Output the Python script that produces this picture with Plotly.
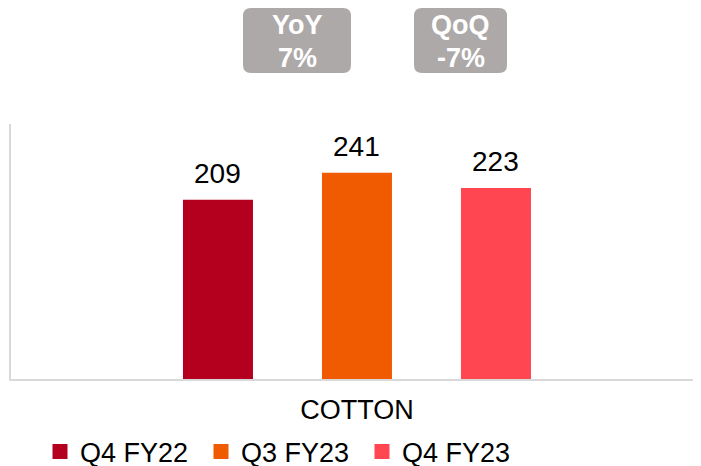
import plotly.graph_objects as go

categories = ["COTTON"]
series_names = ["Q4 FY22", "Q3 FY23", "Q4 FY23"]
series_values = [209, 241, 223]
series_colors = ["#B4001E", "#F05A00", "#FF4651"]
badge_titles = ["YoY", "QoQ"]
badge_values = ["7%", "-7%"]

# page body has an 8px default margin; size the figure to fit the 701x466 window
OFF = 8
W, H = 701 - OFF, 466 - OFF
ML, MR, MT, MB = 11 - OFF, 0, 124 - OFF, 87
PW, PH = W - ML - MR, H - MT - MB

FONT = "Arial, Liberation Sans, sans-serif"

fig = go.Figure()
positions = list(range(len(series_names)))
for pos, name, val, col in zip(positions, series_names, series_values, series_colors):
    fig.add_trace(go.Bar(
        x=[pos], y=[val], name=name, width=0.482,
        marker=dict(color=col, line=dict(color=col, width=3)),
        hoverinfo="name+y",
    ))
    fig.add_annotation(x=pos, y=val, xref="x", yref="y", text=str(val),
                       showarrow=False, yanchor="bottom", yshift=10,
                       font=dict(family=FONT, size=28, color="#000000"))

def px2paper(px, py):
    # px, py in window pixels
    return (px - OFF - ML) / PW, (H - MB - (py - OFF)) / PH

def rounded_rect(x0, y0, x1, y1, r=8):
    rx, ry = r / PW, r / PH
    X0, Y0 = px2paper(x0, y1)
    X1, Y1 = px2paper(x1, y0)
    return (f"M {X0+rx},{Y0} L {X1-rx},{Y0} Q {X1},{Y0} {X1},{Y0+ry} "
            f"L {X1},{Y1-ry} Q {X1},{Y1} {X1-rx},{Y1} L {X0+rx},{Y1} "
            f"Q {X0},{Y1} {X0},{Y1-ry} L {X0},{Y0+ry} Q {X0},{Y0} {X0+rx},{Y0} Z")

badge_boxes = [(243, 8, 351, 73), (414, 8, 507, 73)]
for (x0, y0, x1, y1), t, v in zip(badge_boxes, badge_titles, badge_values):
    fig.add_shape(type="path", xref="paper", yref="paper",
                  path=rounded_rect(x0, y0, x1, y1),
                  fillcolor="#ADA9A8", line=dict(width=0), layer="above")
    for txt, ty in ((t, 25), (v, 57.5)):
        cx, cy = px2paper((x0 + x1) / 2, ty)
        fig.add_annotation(x=cx, y=cy, xref="paper", yref="paper",
                           text=f"<b>{txt}</b>", showarrow=False,
                           xanchor="center", yanchor="middle",
                           font=dict(family=FONT, size=27, color="#FFFFFF"))

mid = (len(series_names) - 1) / 2
fig.update_layout(
    width=W, height=H,
    margin=dict(l=ML, r=MR, t=MT, b=MB, pad=0),
    paper_bgcolor="#FFFFFF", plot_bgcolor="#FFFFFF",
    barmode="overlay",
    showlegend=True,
    legend=dict(orientation="h", x=(32 - ML) / PW, xanchor="left",
                yref="container", y=1 - (452 - OFF) / H, yanchor="middle",
                entrywidth=116, entrywidthmode="pixels",
                font=dict(family=FONT, size=27, color="#000000"),
                bgcolor="rgba(0,0,0,0)"),
    xaxis=dict(range=[-1.489, 3.475], tickvals=[mid], ticktext=categories,
               showline=True, linecolor="#D9D9D9", linewidth=2,
               showgrid=False, zeroline=False, ticks="",
               ticklabelstandoff=6,
               tickfont=dict(family=FONT, size=27, color="#000000"),
               fixedrange=True),
    yaxis=dict(range=[0, 300], showline=True, linecolor="#D9D9D9", linewidth=2,
               showgrid=False, zeroline=False, showticklabels=False, ticks="",
               fixedrange=True),
    font=dict(family=FONT),
)

fig.write_html("out.html")
